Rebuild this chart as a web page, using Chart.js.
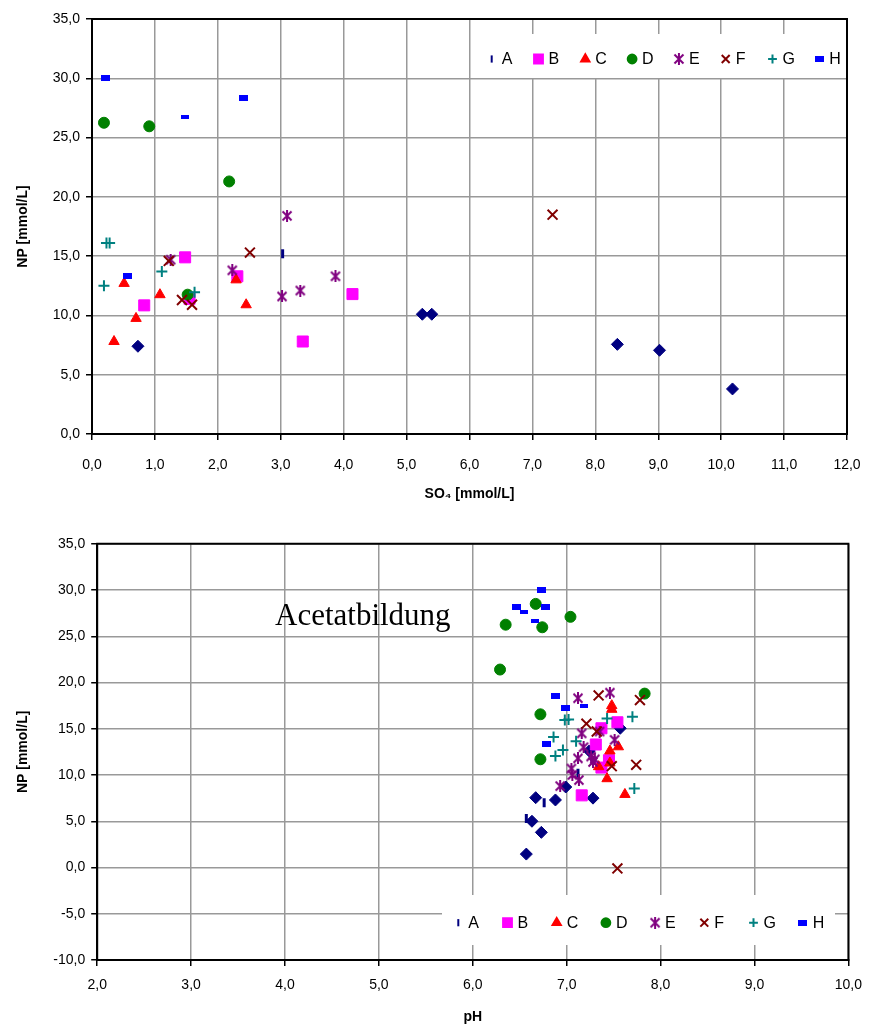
<!DOCTYPE html>
<html>
<head>
<meta charset="utf-8">
<script src="https://cdn.jsdelivr.net/npm/chart.js@4.4.0/dist/chart.umd.min.js"></script>
<style>
  body { margin: 0; background: #fff; }
  .box { position: absolute; left: 0; width: 870px; height: 510px; }
</style>
</head>
<body>
<div class="box" style="top:0"><canvas id="chartSO4"></canvas></div>
<div class="box" style="top:520px"><canvas id="chartPH"></canvas></div>
<script>
// series labels
const seriesNames = ['A', 'B', 'C', 'D', 'E', 'F', 'G', 'H'];

// top chart: [SO4, NP] per series
const so4A = [[3.03, 15.2], [0.73, 7.4], [5.25, 10.1], [5.40, 10.1], [8.35, 7.56], [9.02, 7.06], [10.18, 3.8]];
const so4B = [[1.48, 14.9], [2.31, 13.3], [1.55, 11.4], [4.14, 11.8], [0.83, 10.85], [3.35, 7.8]];
const so4C = [[0.51, 12.7], [1.08, 11.75], [2.29, 13.0], [2.45, 10.9], [0.70, 9.75], [0.35, 7.8]];
const so4D = [[0.19, 26.25], [0.91, 25.95], [2.18, 21.3], [1.52, 11.75]];
const so4E = [[1.25, 14.7], [3.10, 18.4], [2.23, 13.8], [3.87, 13.3], [3.02, 11.6], [3.31, 12.1]];
const so4F = [[1.22, 14.6], [2.51, 15.3], [7.32, 18.5], [1.43, 11.3], [1.59, 10.9]];
const so4G = [[0.23, 16.1], [0.28, 16.1], [1.11, 13.7], [0.19, 12.5], [1.63, 11.95]];
const so4H = [[0.21, 30.0], [2.40, 28.3], [1.48, 26.7], [0.56, 13.3]];

// bottom chart: [pH, NP] per series
const phA = [[7.12, 10.2], [6.76, 7.0], [6.57, 5.3], [7.57, 15.05], [7.24, 12.6], [6.99, 8.7], [6.67, 7.55], [6.88, 7.3], [7.28, 7.5], [6.63, 5.0], [6.73, 3.8], [6.57, 1.45]];
const phB = [[7.54, 15.7], [7.37, 15.05], [7.31, 13.3], [7.45, 11.6], [7.37, 10.8], [7.16, 7.8]];
const phC = [[7.48, 17.5], [7.48, 17.1], [7.55, 13.05], [7.46, 12.6], [7.46, 11.3], [7.34, 10.9], [7.43, 9.6], [7.62, 7.9]];
const phD = [[6.67, 28.5], [6.35, 26.25], [6.74, 25.97], [7.04, 27.1], [6.29, 21.4], [6.72, 16.56], [7.83, 18.8], [6.72, 11.7]];
const phE = [[7.12, 18.3], [7.46, 18.9], [7.16, 14.5], [7.35, 14.7], [7.51, 13.8], [7.18, 13.0], [7.12, 11.8], [7.26, 12.0], [7.30, 11.7], [7.28, 11.4], [7.05, 10.7], [7.06, 10.0], [7.13, 9.45], [6.93, 8.8]];
const phF = [[7.34, 18.6], [7.78, 18.1], [7.21, 15.55], [7.32, 14.7], [7.48, 10.95], [7.74, 11.1], [7.54, -0.1]];
const phG = [[6.98, 15.95], [7.02, 16.0], [7.43, 16.1], [7.70, 16.3], [6.86, 14.1], [7.10, 13.65], [6.96, 12.7], [6.88, 12.05], [7.72, 8.55]];
const phH = [[6.73, 30.0], [6.47, 28.2], [6.54, 27.65], [6.77, 28.2], [6.66, 26.6], [6.88, 18.5], [6.99, 17.2], [7.18, 17.5], [6.79, 13.35]];

// axis ranges / ticks
const so4Range = [0, 12, 1];
const npRangeTop = [0, 35, 5];
const phRange = [2, 10, 1];
const npRangeBottom = [-10, 35, 5];

// which points were drawn with the thin marker variant in the original
const thinTop = { A: [0], H: [2] };
const thinBottom = { A: [0, 1, 2], H: [2, 4, 7] };

Chart.defaults.font.family = '"Liberation Sans", Arial, sans-serif';
Chart.defaults.color = '#000';

function rectImg(w, h) {
  const c = document.createElement('canvas');
  c.width = w; c.height = h;
  const g = c.getContext('2d');
  g.fillStyle = '#0000FF';
  g.fillRect(0, 0, w, h);
  return c;
}
// excel style asterisk: an x with a vertical stroke
function starImg(size, color) {
  const c = document.createElement('canvas');
  c.width = size; c.height = size;
  const g = c.getContext('2d');
  g.strokeStyle = color;
  g.lineWidth = 2;
  const m = 1.5, s = size - 1.5;
  g.beginPath();
  g.moveTo(m, m); g.lineTo(s, s);
  g.moveTo(s, m); g.lineTo(m, s);
  g.moveTo(size / 2, 0); g.lineTo(size / 2, size);
  g.stroke();
  return c;
}
const hThick = rectImg(9, 6);
const hThin = rectImg(8, 4);
const eStar = starImg(12, '#800080');

// marker look per series (normal variant, thin variant)
const looks = {
  A: { color: '#000080', style: 'rectRot', radius: 6, bw: 1, thin: { style: 'line', radius: 4.5, bw: 3, rot: 90 } },
  B: { color: '#FF00FF', style: 'rect', radius: 7.8, bw: 1 },
  C: { color: '#FF0000', style: 'triangle', radius: 6, bw: 1 },
  D: { color: '#008000', style: 'circle', radius: 5.5, bw: 1 },
  E: { color: '#800080', style: eStar, radius: 6, bw: 0 },
  F: { color: '#800000', style: 'crossRot', radius: 7, bw: 2 },
  G: { color: '#008080', style: 'cross', radius: 5.5, bw: 2 },
  H: { color: '#0000FF', style: hThick, radius: 5, bw: 0, thin: { style: hThin, radius: 5, bw: 0, rot: 0 } }
};

function makeDatasets(list, thin) {
  return list.map((pts, i) => {
    const name = seriesNames[i];
    const lk = looks[name];
    const thinIdx = thin[name] || [];
    const pick = (c, key, norm) => thinIdx.includes(c.dataIndex) && lk.thin ? lk.thin[key] : norm;
    return {
      label: name,
      data: pts.map(p => ({ x: p[0], y: p[1] })),
      order: list.length - i,
      pointBackgroundColor: lk.color,
      pointBorderColor: lk.color,
      pointStyle: c => pick(c, 'style', lk.style),
      pointRadius: c => pick(c, 'radius', lk.radius),
      pointBorderWidth: c => pick(c, 'bw', lk.bw),
      pointRotation: c => pick(c, 'rot', 0),
      pointHoverRadius: c => pick(c, 'radius', lk.radius)
    };
  });
}

const fmt = v => v.toFixed(1).replace('.', ',');

// frame around plot area, white legend box, free text
const frameLegend = {
  id: 'frameLegend',
  beforeDatasetsDraw(chart, args, opts) {
    const { ctx, chartArea: a } = chart;
    ctx.save();
    ctx.strokeStyle = '#000';
    ctx.lineWidth = 2;
    ctx.strokeRect(a.left, a.top, a.right - a.left, a.bottom - a.top);
    const L = opts.legend;
    ctx.fillStyle = '#fff';
    ctx.fillRect(L.x, L.y, L.w, L.h);
    ctx.font = '16px "Liberation Sans", Arial, sans-serif';
    ctx.textBaseline = 'middle';
    seriesNames.forEach((name, i) => {
      const lk = looks[name];
      const mx = L.first + i * L.step;
      const v = (name === 'A') ? lk.thin : lk;
      ctx.fillStyle = lk.color;
      ctx.strokeStyle = lk.color;
      Chart.helpers.drawPoint(ctx, {
        pointStyle: v.style,
        radius: v.radius * 0.8,
        rotation: v.rot || 0,
        borderWidth: v.bw
      }, mx, L.cy);
      ctx.fillStyle = '#000';
      ctx.fillText(name, mx + 10, L.cy + 1);
    });
    if (opts.note) {
      ctx.fillStyle = '#000';
      ctx.font = '31px "Liberation Serif", "Times New Roman", serif';
      ctx.textBaseline = 'alphabetic';
      ctx.fillText(opts.note.text, opts.note.x, opts.note.y);
    }
    ctx.restore();
  }
};

function axis(range, title, fit, horizontal, tickPad, titlePad) {
  return {
    type: 'linear',
    min: range[0],
    max: range[1],
    ticks: { stepSize: range[2], callback: fmt, font: { size: 14 }, color: '#000', padding: tickPad },
    grid: { color: '#999', lineWidth: 1.5, tickColor: '#000', tickLength: 6, tickWidth: 1.5 },
    border: { display: true, color: '#000', width: 2 },
    title: { display: true, text: title, font: { size: 14, weight: 'bold' }, color: '#000', padding: titlePad },
    afterFit: s => {
      if (horizontal) s.height = fit; else s.width = fit;
      // keep the plot area exactly where the layout padding puts it
      s.paddingLeft = 0; s.paddingRight = 0; s.paddingTop = 0; s.paddingBottom = 0;
    }
  };
}

function build(id, datasets, xr, yr, xTitle, geo, legend, note) {
  new Chart(document.getElementById(id), {
    type: 'scatter',
    data: { datasets },
    options: {
      responsive: true,
      maintainAspectRatio: false,
      animation: false,
      layout: { padding: { top: geo.top, right: geo.right, left: 0, bottom: 0 } },
      scales: {
        x: axis(xr, xTitle, geo.xh, true, geo.xPad, { top: 0, bottom: geo.xTitlePad }),
        y: axis(yr, 'NP [mmol/L]', geo.yw, false, 6, { top: 15, bottom: 0 })
      },
      plugins: {
        legend: { display: false },
        tooltip: { enabled: false },
        frameLegend: { legend, note }
      }
    },
    plugins: [frameLegend]
  });
}

build('chartSO4',
  makeDatasets([so4A, so4B, so4C, so4D, so4E, so4F, so4G, so4H], thinTop),
  so4Range, npRangeTop, 'SO\u2084 [mmol/L]',
  { top: 19, right: 23, xh: 76, yw: 92, xPad: 17, xTitlePad: 7 },
  { x: 473, y: 34, w: 373, h: 44, first: 491.7, step: 46.8, cy: 59 },
  null);

build('chartPH',
  makeDatasets([phA, phB, phC, phD, phE, phF, phG, phH], thinBottom),
  phRange, npRangeBottom, 'pH',
  { top: 23.75, right: 21.6, xh: 70, yw: 97.2, xPad: 11, xTitlePad: 4.6 },
  { x: 442, y: 375, w: 393, h: 50, first: 458.3, step: 49.2, cy: 402.7 },
  { text: 'Acetatbildung', x: 275, y: 105 });
</script>
</body>
</html>
